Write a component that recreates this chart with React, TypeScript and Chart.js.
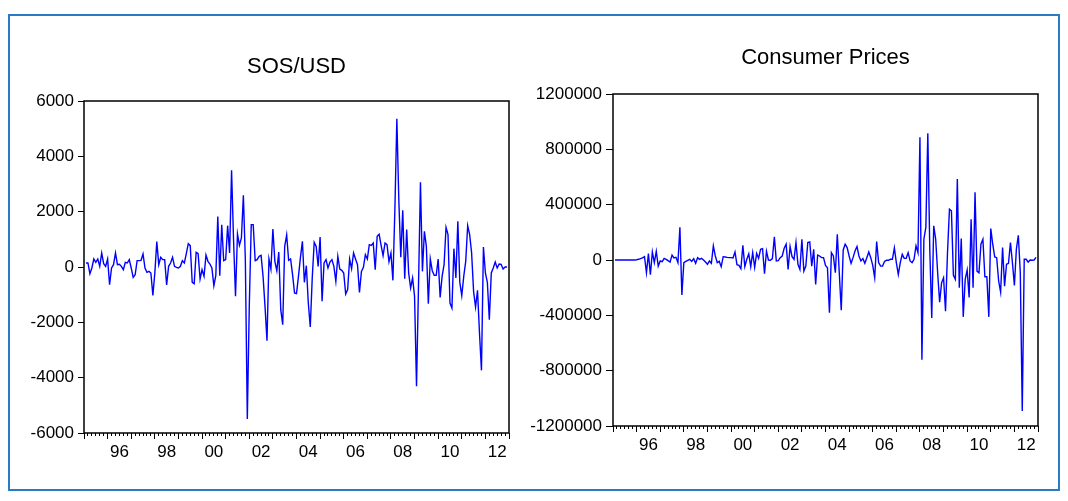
import React, { useEffect, useRef } from "react";
import { Chart, registerables } from "chart.js";

Chart.register(...registerables);

// Monthly changes, 1995M02 .. 2012M12
const START_YEAR = 1995;
const FIRST_MONTH = 2;

const sosUsd: number[] = [
  145, 145, -241, -36, 289, 169, 289, 24, 506, 120,
  24, 289, -639, -36, 84, 506, 84, 96, 24, -96,
  169, 145, 265, -36, -374, -277, 229, 229, 241, 470,
  -36, -193, -157, -217, -1024, -217, 916, 84, 349, 265,
  265, -651, 24, 145, 349, 24, -12, -36, 24, 229,
  145, 482, 844, 771, -554, -603, 530, 482, -434, -96,
  -337, 434, 205, 108, -36, -675, -301, 1820, -313, 1530,
  229, 265, 1494, 506, 3495, 988, -1060, 1193, 783, 1048,
  2591, 265, -5495, -1422, 1530, 1530, 229, 265, 386, 422,
  -337, -1422, -2663, 289, -72, 1374, 205, -133, 542, -1542,
  -2085, 747, 1157, 241, 289, -277, -940, -964, -337, 349,
  928, -554, 48, -1301, -2169, -398, 892, 747, 24, 1085,
  -1241, 145, 265, -36, 181, 265, 24, -518, 386, -72,
  -121, -217, -976, -819, 289, -60, 506, 289, 84, -916,
  -157, -12, 446, 289, 807, 783, 868, -96, 1109, 1181,
  783, 410, 868, 807, 193, 506, -482, 2073, 5362, 2434,
  349, 2049, -422, 1350, -217, -759, -398, -1060, -4314, -699,
  3061, -157, 1289, 747, -1326, 289, -133, -301, -301, 289,
  -1097, -337, 84, 1434, 1169, -1301, -1482, 663, -398, 1651,
  -554, -1036, -337, 205, 1494, 1169, 506, -880, -1446, -844,
  -2386, -3736, 723, -217, -554, -1904, -217, -36, 181, -36,
  108, 96, -72, 0, 0,
];

const consumerPrices: number[] = [
  0, 0, 0, 0, 0, 0, 0, 0, 0, 0,
  0, 2000, 5000, 10000, 15000, 24000, -92000, 46000, -106000, 58000,
  -19000, 63000, -44000, -7000, -12000, 12000, 5000, -5000, -15000, 36000,
  15000, 19000, -19000, 237000, -252000, -19000, -10000, -2000, 5000, -10000,
  10000, -24000, 17000, 5000, 12000, 0, -15000, -31000, -7000, -24000,
  102000, 29000, -19000, -10000, -48000, 24000, 22000, 19000, 17000, 17000,
  15000, 58000, -34000, -39000, -63000, 106000, -48000, 5000, 44000, -48000,
  53000, -53000, 48000, 12000, 77000, 82000, -99000, 63000, 0, -2000,
  10000, 167000, -7000, -5000, 17000, 29000, 85000, 114000, -68000, 97000,
  24000, 5000, 126000, -31000, -68000, 150000, -80000, -44000, 126000, 131000,
  -44000, 77000, -177000, 36000, 29000, 17000, 17000, -39000, -56000, -382000,
  53000, 29000, -92000, 186000, -92000, -363000, 73000, 114000, 90000, 29000,
  -24000, 17000, 65000, 97000, 29000, -7000, 10000, -24000, 17000, 58000,
  17000, -39000, -128000, 133000, -19000, -44000, -44000, -10000, -2000, -2000,
  5000, 5000, 87000, -19000, -104000, -19000, 41000, 12000, 12000, 53000,
  -7000, -19000, 5000, 102000, 53000, 888000, -721000, 150000, 236000, 917000,
  77000, -419000, 247000, 150000, -92000, -305000, -165000, -128000, -370000, 53000,
  368000, 356000, -111000, -140000, 586000, -201000, 155000, -411000, -140000, -73000,
  -271000, 295000, -201000, 489000, -80000, -92000, 114000, 150000, -121000, -121000,
  -411000, 227000, 114000, 22000, 17000, -152000, -232000, 90000, -189000, -31000,
  -24000, 126000, -19000, -184000, 77000, 179000, -92000, -1091000, 5000, 5000,
  -15000, 0, -2000, 0, 19000,
];

// Axis ranges and tick labels
const X_MIN = 1995;
const X_MAX = 2013;
const labelYears = [1996, 1998, 2000, 2002, 2004, 2006, 2008, 2010, 2012];
const yearLabels = ["96", "98", "00", "02", "04", "06", "08", "10", "12"];
const sosRange = { min: -6000, max: 6000, step: 2000 };
const cpiRange = { min: -1200000, max: 1200000, step: 400000 };

const FONT = "'Liberation Sans', Arial, Helvetica, sans-serif";

type Panel = {
  title: string;
  values: number[];
  range: { min: number; max: number; step: number };
  box: { left: number; top: number; width: number; height: number };
  yAxisWidth: number;
  xAxisHeight: number;
  padRight: number;
  titlePadTop: number;
  titlePadBottom: number;
  yTickLength: number;
  yTickPadding: number;
};

const TITLE_SIZE = 22;
const TITLE_LINE = TITLE_SIZE * 1.2;

const panels: Panel[] = [
  {
    title: "SOS/USD",
    values: sosUsd,
    range: sosRange,
    box: { left: 20, top: 30, width: 500, height: 450 },
    yAxisWidth: 64,
    xAxisHeight: 47,
    padRight: 11,
    titlePadTop: 37 - TITLE_LINE / 2,
    titlePadBottom: 71 - (37 - TITLE_LINE / 2) - TITLE_LINE,
    yTickLength: 6,
    yTickPadding: 4,
  },
  {
    title: "Consumer Prices",
    values: consumerPrices,
    range: cpiRange,
    box: { left: 515, top: 20, width: 535, height: 450 },
    yAxisWidth: 98,
    xAxisHeight: 44,
    padRight: 12,
    titlePadTop: 38 - TITLE_LINE / 2,
    titlePadBottom: 74 - (38 - TITLE_LINE / 2) - TITLE_LINE,
    yTickLength: 7,
    yTickPadding: 4,
  },
];

function monthX(k: number): number {
  return START_YEAR + (FIRST_MONTH - 1 + k) / 12;
}

function range(from: number, to: number, step: number): number[] {
  const out: number[] = [];
  for (let v = from; v <= to + 1e-9; v += step) out.push(Math.round(v * 1e6) / 1e6);
  return out;
}

const yearTicks = range(X_MIN, X_MAX, 1);
const minorTicks = range(X_MIN, X_MAX, 1 / 6).filter(
  (v) => Math.abs(v - Math.round(v)) > 1e-6
);

// Box around the plotting area
const plotFrame = {
  id: "plotFrame",
  afterDraw(chart: any) {
    const { ctx, chartArea: a } = chart;
    ctx.save();
    ctx.strokeStyle = "#000";
    ctx.lineWidth = 1.5;
    ctx.strokeRect(a.left, a.top, a.right - a.left, a.bottom - a.top);
    ctx.restore();
  },
};

function tickAxis(values: number[], len: number, weight: number) {
  return {
    type: "linear" as const,
    axis: "x" as const,
    position: "bottom" as const,
    weight,
    min: X_MIN,
    max: X_MAX,
    afterBuildTicks: (s: any) => {
      s.ticks = values.map((v) => ({ value: v }));
    },
    afterFit: (s: any) => {
      s.height = 0;
    },
    ticks: { display: false },
    border: { display: false },
    grid: {
      display: true,
      drawOnChartArea: false,
      drawTicks: true,
      tickLength: len,
      color: "#000",
      lineWidth: 1,
    },
  };
}

function buildConfig(p: Panel): any {
  const tickFont = { family: FONT, size: 17, weight: "normal" as const, lineHeight: 1.2 };
  return {
    type: "line",
    data: {
      datasets: [
        {
          data: p.values.map((v, k) => ({ x: monthX(k), y: v })),
          borderColor: "#0000ff",
          borderWidth: 1.4,
          pointRadius: 0,
          tension: 0,
          fill: false,
          xAxisID: "x",
          yAxisID: "y",
        },
      ],
    },
    options: {
      animation: false,
      responsive: false,
      devicePixelRatio: 1,
      events: [],
      layout: { padding: { left: 0, right: p.padRight, top: 0, bottom: 0 } },
      plugins: {
        legend: { display: false },
        tooltip: { enabled: false },
        title: {
          display: true,
          fullSize: false,
          text: p.title,
          color: "#000",
          font: { family: FONT, size: TITLE_SIZE, weight: "normal", lineHeight: 1.2 },
          padding: { top: p.titlePadTop, bottom: p.titlePadBottom },
        },
      },
      scales: {
        xMinor: tickAxis(minorTicks, 3, 0),
        xMajor: tickAxis(yearTicks, 6, 1),
        x: {
          type: "linear",
          position: "bottom",
          weight: 2,
          min: X_MIN,
          max: X_MAX,
          afterBuildTicks: (s: any) => {
            s.ticks = labelYears.map((y) => ({ value: y + 0.5 }));
          },
          afterFit: (s: any) => {
            s.height = p.xAxisHeight;
          },
          ticks: {
            autoSkip: false,
            maxRotation: 0,
            minRotation: 0,
            padding: 9,
            color: "#000",
            font: tickFont,
            callback: (value: number) => {
              const i = labelYears.indexOf(Math.floor(value));
              return i >= 0 ? yearLabels[i] : "";
            },
          },
          grid: { display: false, drawTicks: false },
          border: { display: false },
        },
        y: {
          type: "linear",
          position: "left",
          min: p.range.min,
          max: p.range.max,
          afterFit: (s: any) => {
            s.width = p.yAxisWidth;
          },
          ticks: {
            stepSize: p.range.step,
            padding: p.yTickPadding,
            color: "#000",
            font: tickFont,
            callback: (value: number) => String(value),
          },
          grid: {
            drawOnChartArea: false,
            drawTicks: true,
            tickLength: p.yTickLength,
            color: "#000",
            lineWidth: 1,
          },
          border: { display: false },
        },
      },
    },
    plugins: [plotFrame],
  };
}

function ChartPanel({ panel }: { panel: Panel }) {
  const ref = useRef<HTMLCanvasElement | null>(null);
  useEffect(() => {
    if (!ref.current) return;
    const chart = new Chart(ref.current, buildConfig(panel));
    return () => chart.destroy();
  }, [panel]);
  const { left, top, width, height } = panel.box;
  return (
    <canvas
      ref={ref}
      width={width}
      height={height}
      style={{ position: "absolute", left, top, width, height }}
    />
  );
}

export default function App() {
  return (
    <div
      style={{
        position: "absolute",
        left: 0,
        top: 0,
        width: 1068,
        height: 501,
        background: "#fff",
        overflow: "hidden",
      }}
    >
      <div
        style={{
          position: "absolute",
          left: 8,
          top: 14,
          width: 1052,
          height: 477,
          border: "2px solid #2a7ac6",
          boxSizing: "border-box",
        }}
      />
      {panels.map((p) => (
        <ChartPanel key={p.title} panel={p} />
      ))}
    </div>
  );
}
